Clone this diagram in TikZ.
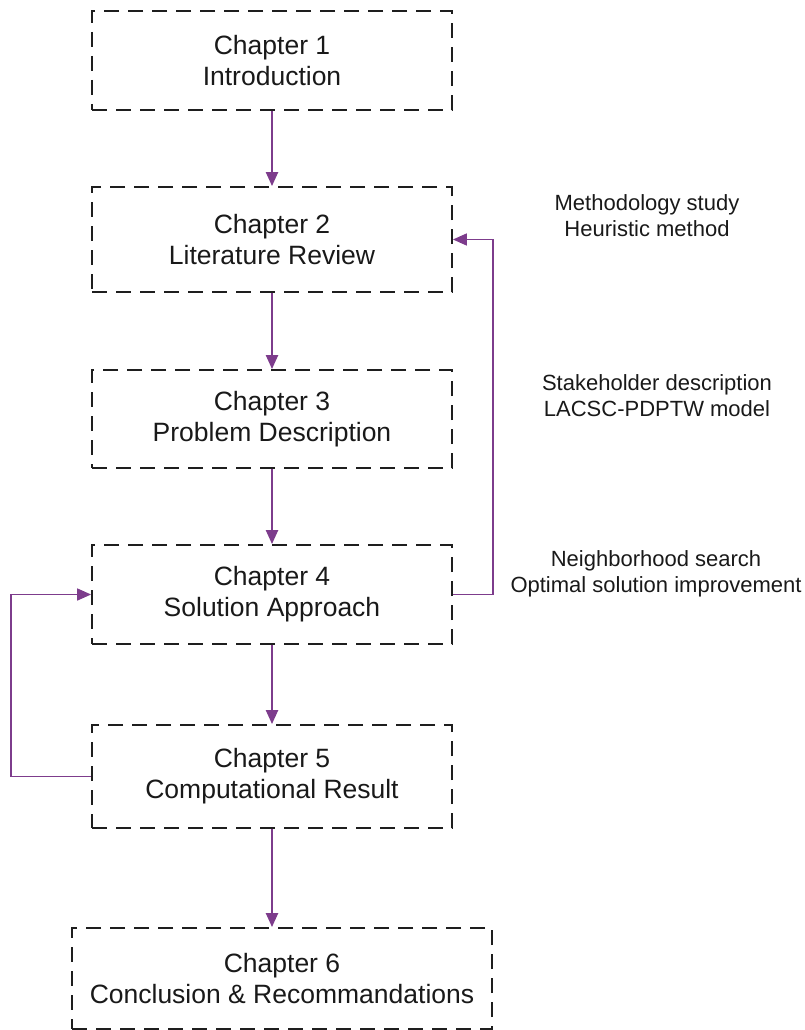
\documentclass[tikz,border=0pt]{standalone}
\usepackage{fontspec}
\setmainfont{Liberation Sans}
\usetikzlibrary{arrows.meta}
\definecolor{arrowpurple}{RGB}{125,60,140}
\definecolor{boxline}{RGB}{30,30,30}
\begin{document}
\begin{tikzpicture}[x=1pt,y=-1pt,
  chapbox/.style={draw=boxline, line width=1.8pt, dash pattern=on 15pt off 9pt,
    minimum width=360pt, inner sep=0pt, align=center,
    font=\fontsize{26.5}{31}\selectfont, text=black!90},
  sidetext/.style={align=center, font=\fontsize{22}{26}\selectfont, text=black!90},
  flow/.style={draw=arrowpurple, line width=2.2pt, -{Triangle[length=14pt,width=12pt]}},
  back/.style={draw=arrowpurple, line width=1.7pt, -{Triangle[length=14pt,width=12pt]}}]
\useasboundingbox (0,0) rectangle (805,1030);
\node[chapbox, minimum height=99pt] (c1) at (272,60.5) {Chapter 1\\Introduction};
\node[chapbox, minimum height=105pt] (c2) at (272,239.5) {Chapter 2\\Literature Review};
\node[chapbox, minimum height=98pt] (c3) at (272,419) {Chapter 3\\Problem Description};
\node[chapbox, minimum height=99pt] (c4) at (272,594.5) {Chapter 4\\Solution Approach};
\node[chapbox, minimum height=103pt] (c5) at (272,776.5) {Chapter 5\\Computational Result};
\node[chapbox, minimum width=420pt, minimum height=101pt] (c6) at (282,978.5) {Chapter 6\\Conclusion \& Recommandations};
\node[sidetext] (s2) at (647,216) {Methodology study\\Heuristic method};
\node[sidetext] (s3) at (657,395.5) {Stakeholder description\\LACSC-PDPTW model};
\node[sidetext] (s4) at (656,574) {Neighborhood search\\Optimal solution improvement};
\draw[flow] (c1) -- (c2);
\draw[flow] (c2) -- (c3);
\draw[flow] (c3) -- (c4);
\draw[flow] (c4) -- (c5);
\draw[flow] (c5.south) -- (c5.south |- c6.north);
\draw[back] (c4.east) -- ++(40,0) |- (c2.east);
\draw[back] (c5.west) -- ++(-80,0) |- (c4.west);
\end{tikzpicture}
\end{document}
